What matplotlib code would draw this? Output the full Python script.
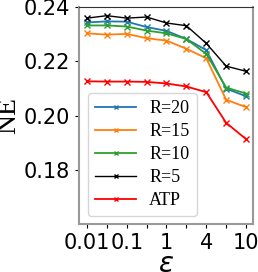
import matplotlib
matplotlib.use("Agg")
import matplotlib.pyplot as plt

# epsilon settings (plotted at even spacing)
eps_labels = ["0.01", "", "0.1", "", "1", "", "4", "", "10"]

ne_r20 = [0.2343, 0.2347, 0.2346, 0.2326, 0.2312, 0.2282, 0.2241, 0.2099, 0.2071]
ne_r15 = [0.2303, 0.2298, 0.2301, 0.2285, 0.2276, 0.2246, 0.2211, 0.2058, 0.2031]
ne_r10 = [0.2332, 0.2332, 0.2328, 0.2313, 0.2303, 0.2282, 0.2227, 0.2103, 0.2081]
ne_r5 = [0.2359, 0.2368, 0.2359, 0.2363, 0.2341, 0.2331, 0.2266, 0.2182, 0.2163]
ne_atp = [0.2126, 0.2125, 0.2125, 0.2124, 0.2118, 0.2107, 0.2086, 0.1973, 0.1913]

x = list(range(len(eps_labels)))

fig = plt.figure(figsize=(2.58, 2.72), dpi=100)
ax = fig.add_axes([79 / 258, 1 - 224 / 272, (253 - 79) / 258, (224 - 7) / 272])

ax.plot(x, ne_r20, color="tab:blue", marker="x", markersize=4, lw=1.3, label="R=20")
ax.plot(x, ne_r15, color="tab:orange", marker="x", markersize=4, lw=1.3, label="R=15")
ax.plot(x, ne_r10, color="tab:green", marker="x", markersize=4, lw=1.3, label="R=10")
ax.plot(x, ne_r5, color="black", marker="x", markersize=4, lw=1.0, label="R=5")
ax.plot(x, ne_atp, color="red", marker="x", markersize=4, lw=1.3, label="ATP")

ax.set_ylim(0.16, 0.24)
ax.set_yticks([0.18, 0.20, 0.22, 0.24])
ax.set_xlim(-0.4, 8.35)
ax.set_xticks(x)
ax.set_xticklabels(eps_labels)
ax.tick_params(labelsize=15, colors="black", length=3)
for side in ["left", "bottom", "right"]:
    ax.spines[side].set_color("#999999")
    ax.spines[side].set_linewidth(1.5)
ax.spines["top"].set_color("#333333")

ax.set_ylabel("NE", fontsize=20, family="Liberation Serif", labelpad=2)
ax.set_xlabel(r"$\epsilon$", fontsize=20, labelpad=-2)

leg = ax.legend(loc="lower left", prop={"family": "Liberation Serif", "size": 13},
                handlelength=2.3, handletextpad=0.7, labelspacing=0.33,
                borderpad=0.4, markerscale=0.8,
                borderaxespad=0, bbox_to_anchor=(0.05, 0.035))

fig.savefig("out.png", dpi=100)
